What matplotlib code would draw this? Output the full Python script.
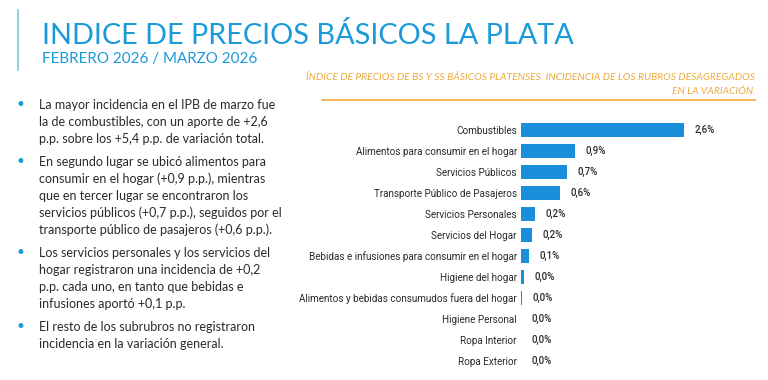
import matplotlib
matplotlib.use("Agg")
import matplotlib.pyplot as plt
from matplotlib.lines import Line2D

# ---------------------------------------------------------------------------
# Data
# ---------------------------------------------------------------------------
rubros = [
    "Combustibles",
    "Alimentos para consumir en el hogar",
    "Servicios Públicos",
    "Transporte Público de Pasajeros",
    "Servicios Personales",
    "Servicios del Hogar",
    "Bebidas e infusiones para consumir en el hogar",
    "Higiene del hogar",
    "Alimentos y bebidas consumudos fuera del hogar",
    "Higiene Personal",
    "Ropa Interior",
    "Ropa Exterior",
]
incidencia = [2.60, 0.86, 0.73, 0.62, 0.22, 0.18, 0.13, 0.04, 0.015, 0.0, 0.0, 0.0]

bullets = [
    ["La mayor incidencia en el IPB de marzo fue",
     "la de combustibles, con un aporte de +2,6",
     "p.p. sobre los +5,4 p.p. de variación total."],
    ["En segundo lugar se ubicó alimentos para",
     "consumir en el hogar (+0,9 p.p.), mientras",
     "que en tercer lugar se encontraron los",
     "servicios públicos (+0,7 p.p.), seguidos por el",
     "transporte público de pasajeros (+0,6 p.p.)."],
    ["Los servicios personales y los servicios del",
     "hogar registraron una incidencia de +0,2",
     "p.p. cada uno, en tanto que bebidas e",
     "infusiones aportó +0,1 p.p."],
    ["El resto de los subrubros no registraron",
     "incidencia en la variación general."],
]

titulo = "INDICE DE PRECIOS BÁSICOS LA PLATA"
subtitulo = "FEBRERO 2026 / MARZO 2026"
titulo_grafico = ("ÍNDICE DE PRECIOS DE BS Y SS BÁSICOS PLATENSES. INCIDENCIA DE LOS RUBROS DESAGREGADOS\n"
                  "EN LA VARIACIÓN.")

BLUE = "#1a9ad9"
BAR = "#1a8ddb"
ORANGE = "#eeaa3c"
TEXT = "#2a2a2a"

W, H = 768, 380
fig = plt.figure(figsize=(W / 100, H / 100), dpi=100)
fig.patch.set_facecolor("white")


def fx(px):
    return px / W


def fy(py):
    return 1 - py / H


# header
fig.add_artist(Line2D([fx(18), fx(18)], [fy(10), fy(70)], color="#7cc3ea", lw=1.2))
fig.text(fx(42), fy(44), titulo, fontsize=20.8, color=BLUE, family="Lato", va="baseline")
fig.text(fx(42), fy(63), subtitulo, fontsize=10.9, color=BLUE, family="Lato", va="baseline")

# chart title (orange)
fig.text(fx(755), fy(94), titulo_grafico, fontsize=7.35, color=ORANGE, family="Lato",
         style="italic", ha="right", va="baseline", linespacing=1.75)
fig.add_artist(Line2D([fx(322), fx(755)], [fy(100), fy(100)], color=ORANGE, lw=1.2))

# bullet text, one line at a time (17 px leading, 6 px between paragraphs)
y = 105
for lines in bullets:
    fig.text(fx(20), fy(y), "•", fontsize=12, color=BLUE, va="center", ha="center")
    for ln in lines:
        fig.text(fx(39), fy(y), ln, fontsize=9.0, color=TEXT, family="Lato",
                 va="center")
        y += 17
    y += 6

# ---------------------------------------------------------------------------
# Bar chart
# ---------------------------------------------------------------------------
top_px, bot_px = 120, 371
left_px = 521
ax = fig.add_axes([fx(left_px), fy(bot_px), fx(188), (bot_px - top_px) / H])
pos = list(range(len(rubros)))
ax.barh(pos, incidencia, height=0.67, color=BAR)
ax.set_ylim(len(rubros) - 0.5, -0.5)
ax.set_xlim(0, 3.0)
ax.set_yticks(pos)
ax.set_yticklabels(rubros, family="Roboto", fontsize=7.1, color=TEXT)
ax.tick_params(axis="y", length=0, pad=3)
ax.set_xticks([])
for s in ax.spines.values():
    s.set_visible(False)
for i, v in enumerate(incidencia):
    lab = f"{v:.1f}%".replace(".", ",")
    ax.text(v + 0.17, i, lab, family="Roboto", fontsize=7, color=TEXT,
            va="center", ha="left", fontweight="medium")

fig.savefig("out.png", dpi=100, facecolor="white")
